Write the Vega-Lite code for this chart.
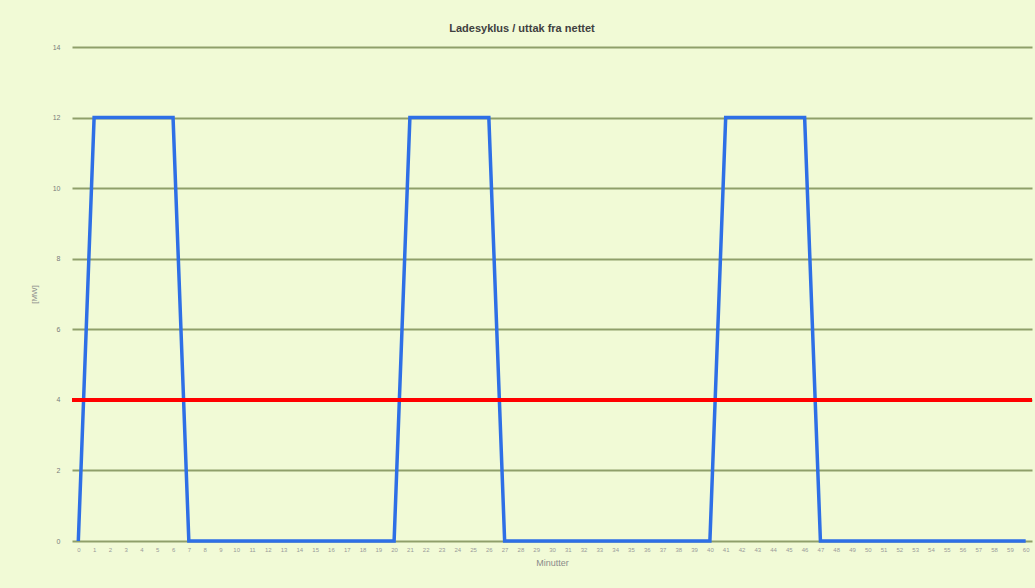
{
  "$schema": "https://vega.github.io/schema/vega-lite/v6.json",
  "autosize": "none",
  "width": 960,
  "height": 494,
  "padding": {"left": 72, "top": 47, "right": 3, "bottom": 47},
  "background": "#f1fad6",
  "title": {"text": "Ladesyklus / uttak fra nettet", "font": "Liberation Sans", "fontSize": 11, "fontWeight": "bold", "color": "#404040", "offset": 9, "dx": -30},
  "config": {"view": {"stroke": null}, "font": "Liberation Sans"},
  "data": {"values": [
    {"min": 0, "mw": 0}, {"min": 1, "mw": 12}, {"min": 2, "mw": 12}, {"min": 3, "mw": 12}, {"min": 4, "mw": 12}, {"min": 5, "mw": 12}, {"min": 6, "mw": 12},
    {"min": 7, "mw": 0}, {"min": 8, "mw": 0}, {"min": 9, "mw": 0}, {"min": 10, "mw": 0}, {"min": 11, "mw": 0}, {"min": 12, "mw": 0}, {"min": 13, "mw": 0}, {"min": 14, "mw": 0}, {"min": 15, "mw": 0}, {"min": 16, "mw": 0}, {"min": 17, "mw": 0}, {"min": 18, "mw": 0}, {"min": 19, "mw": 0}, {"min": 20, "mw": 0},
    {"min": 21, "mw": 12}, {"min": 22, "mw": 12}, {"min": 23, "mw": 12}, {"min": 24, "mw": 12}, {"min": 25, "mw": 12}, {"min": 26, "mw": 12},
    {"min": 27, "mw": 0}, {"min": 28, "mw": 0}, {"min": 29, "mw": 0}, {"min": 30, "mw": 0}, {"min": 31, "mw": 0}, {"min": 32, "mw": 0}, {"min": 33, "mw": 0}, {"min": 34, "mw": 0}, {"min": 35, "mw": 0}, {"min": 36, "mw": 0}, {"min": 37, "mw": 0}, {"min": 38, "mw": 0}, {"min": 39, "mw": 0}, {"min": 40, "mw": 0},
    {"min": 41, "mw": 12}, {"min": 42, "mw": 12}, {"min": 43, "mw": 12}, {"min": 44, "mw": 12}, {"min": 45, "mw": 12}, {"min": 46, "mw": 12},
    {"min": 47, "mw": 0}, {"min": 48, "mw": 0}, {"min": 49, "mw": 0}, {"min": 50, "mw": 0}, {"min": 51, "mw": 0}, {"min": 52, "mw": 0}, {"min": 53, "mw": 0}, {"min": 54, "mw": 0}, {"min": 55, "mw": 0}, {"min": 56, "mw": 0}, {"min": 57, "mw": 0}, {"min": 58, "mw": 0}, {"min": 59, "mw": 0}, {"min": 60, "mw": 0}
  ]},
  "layer": [
    {
      "mark": {"type": "line", "color": "#2e6fe6", "strokeWidth": 3.5},
      "encoding": {
        "x": {"field": "min", "type": "quantitative", "scale": {"domain": [-0.4, 60.4], "nice": false, "zero": false},
          "axis": {"title": "Minutter", "values": [0,1,2,3,4,5,6,7,8,9,10,11,12,13,14,15,16,17,18,19,20,21,22,23,24,25,26,27,28,29,30,31,32,33,34,35,36,37,38,39,40,41,42,43,44,45,46,47,48,49,50,51,52,53,54,55,56,57,58,59,60],
            "grid": false, "domain": false, "ticks": false, "labelFontSize": 6, "labelColor": "#9a9a9a", "labelPadding": 5, "labelOverlap": false, "labelFlush": false,
            "titleFontSize": 9, "titleFontWeight": "normal", "titleColor": "#8a8a8a", "titlePadding": 6}},
        "y": {"field": "mw", "type": "quantitative", "scale": {"domain": [0, 14], "nice": false},
          "axis": {"title": "[MW]", "values": [0,2,4,6,8,10,12,14], "grid": true, "gridColor": "#8f9f6a", "gridWidth": 2, "domain": false, "ticks": false,
            "labelFontSize": 7, "labelColor": "#7a7a7a", "labelPadding": 12, "titleFontSize": 8, "titleFontWeight": "normal", "titleColor": "#8a8a8a", "titlePadding": 14}}
      }
    },
    {
      "mark": {"type": "rule", "color": "#ff0000", "strokeWidth": 3.5},
      "encoding": {"y": {"datum": 4}}
    }
  ]
}
